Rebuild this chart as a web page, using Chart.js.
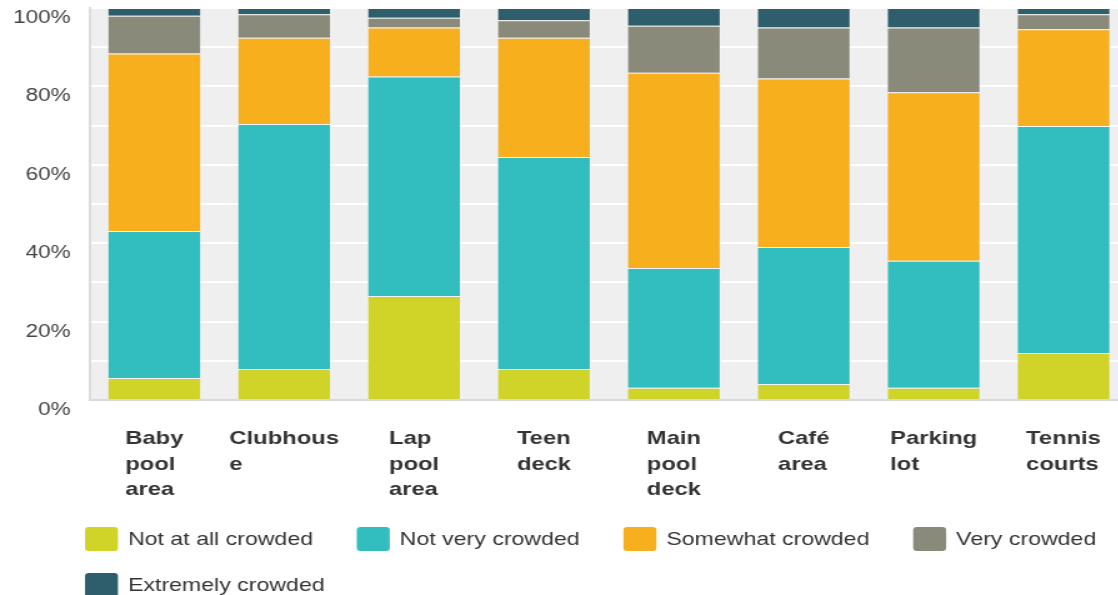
<!DOCTYPE html>
<html>
<head>
<meta charset="utf-8">
<script src="https://cdn.jsdelivr.net/npm/chart.js@4"></script>
<style>
  html, body { margin: 0; padding: 0; background: #fff; overflow: hidden; }
</style>
</head>
<body>
<canvas id="chart" width="905" height="595" style="width:1131.25px;height:595px"></canvas>
<script>
// aree, etichette già spezzate su più righe
const areas = [
  ["Baby", "pool", "area"],
  ["Clubhous", "e"],
  ["Lap", "pool", "area"],
  ["Teen", "deck"],
  ["Main", "pool", "deck"],
  ["Café", "area"],
  ["Parking", "lot"],
  ["Tennis", "courts"],
];

const seriesNames = [
  "Not at all crowded",
  "Not very crowded",
  "Somewhat crowded",
  "Very crowded",
  "Extremely crowded",
];
const seriesColors = ["#d0d428", "#32bdbf", "#f7af1e", "#8a8a7a", "#2e5e6b"];

// percentuali per area
const notAtAll = [5.6, 7.9, 26.5, 7.9, 3.1, 4.1, 3.1, 12.0];
const notVery = [37.5, 62.5, 56.0, 54.1, 30.6, 34.9, 32.4, 57.9];
const somewhat = [45.3, 22.0, 12.5, 30.4, 49.8, 43.0, 43.0, 24.7];
const very = [9.6, 6.0, 2.5, 4.5, 12.0, 13.0, 16.5, 3.8];
const extremely = [2.0, 1.6, 2.5, 3.1, 4.5, 5.0, 5.0, 1.6];

const yMax = 100;
const yGridStep = 10;
const yLabelStep = 20;

const FONT = "'Liberation Sans', Arial, sans-serif";

// sfondo grigio dell'area del grafico
const plotBg = {
  id: "plotBg",
  beforeDraw(chart) {
    const a = chart.chartArea;
    const ctx = chart.ctx;
    ctx.save();
    ctx.fillStyle = "#efefef";
    ctx.fillRect(a.left, a.top, a.right - a.left, a.bottom - a.top);
    ctx.restore();
  },
};

// etichette asse x: righe allineate a sinistra, blocco centrato sulla colonna
const xLabels = {
  id: "xLabels",
  afterDraw(chart) {
    const ctx = chart.ctx;
    const xs = chart.scales.x;
    const base = chart.chartArea.bottom + 44;
    ctx.save();
    ctx.font = "bold 19px " + FONT;
    ctx.fillStyle = "#333";
    ctx.textAlign = "left";
    ctx.textBaseline = "alphabetic";
    areas.forEach((lines, i) => {
      const w = Math.max(...lines.map((l) => ctx.measureText(l).width));
      const left = xs.getPixelForValue(i) - w / 2;
      lines.forEach((l, j) => ctx.fillText(l, left, base + j * 25.5));
    });
    ctx.restore();
  },
};

// legenda a righe, allineata a sinistra
const legendRows = {
  id: "legendRows",
  afterDraw(chart) {
    const ctx = chart.ctx;
    const startX = 68;
    const boxW = 26.4;
    const boxH = 24;
    let x = startX;
    let y = chart.chartArea.bottom + 127;
    ctx.save();
    ctx.font = "18.5px " + FONT;
    ctx.textBaseline = "alphabetic";
    chart.data.datasets.forEach((ds) => {
      const w = boxW + 8 + ctx.measureText(ds.label).width;
      if (x > startX && x + w > 895) {
        x = startX;
        y += 46;
      }
      ctx.fillStyle = ds.backgroundColor;
      ctx.beginPath();
      ctx.roundRect(x, y, boxW, boxH, 3);
      ctx.fill();
      ctx.fillStyle = "#333";
      ctx.fillText(ds.label, x + boxW + 8, y + 18);
      x += w + 35;
    });
    ctx.restore();
  },
};

const values = [notAtAll, notVery, somewhat, very, extremely];

const datasets = seriesNames.map((name, i) => ({
  label: name,
  data: values[i],
  backgroundColor: seriesColors[i],
  borderColor: "rgba(255,255,255,0.18)",
  borderWidth: 1,
  barPercentage: 0.724,
  categoryPercentage: 1,
}));

new Chart(document.getElementById("chart"), {
  type: "bar",
  data: { labels: areas, datasets: datasets },
  options: {
    responsive: false,
    animation: false,
    devicePixelRatio: 1,
    layout: { padding: { top: 8, right: 2, left: 0, bottom: 0 } },
    plugins: {
      legend: { display: false },
      tooltip: { enabled: false },
    },
    scales: {
      x: {
        stacked: true,
        grid: { display: false },
        border: { color: "#dadada", width: 2 },
        ticks: { display: false },
        afterFit(scale) {
          scale.height = 195;
          scale.paddingLeft = 0;
          scale.paddingRight = 0;
        },
      },
      y: {
        stacked: true,
        min: 0,
        max: yMax,
        grid: { color: "#ffffff", lineWidth: 2, drawTicks: false },
        border: { color: "#dcdcdc", width: 2 },
        ticks: {
          stepSize: yGridStep,
          padding: 15,
          labelOffset: 10,
          color: "#444",
          font: { size: 18, family: FONT },
          callback: (v) => (v % yLabelStep === 0 ? v + "%" : ""),
        },
        afterFit(scale) {
          scale.width = 71.5;
          scale.paddingTop = 0;
          scale.paddingBottom = 0;
        },
      },
    },
  },
  plugins: [plotBg, xLabels, legendRows],
});
</script>
</body>
</html>
